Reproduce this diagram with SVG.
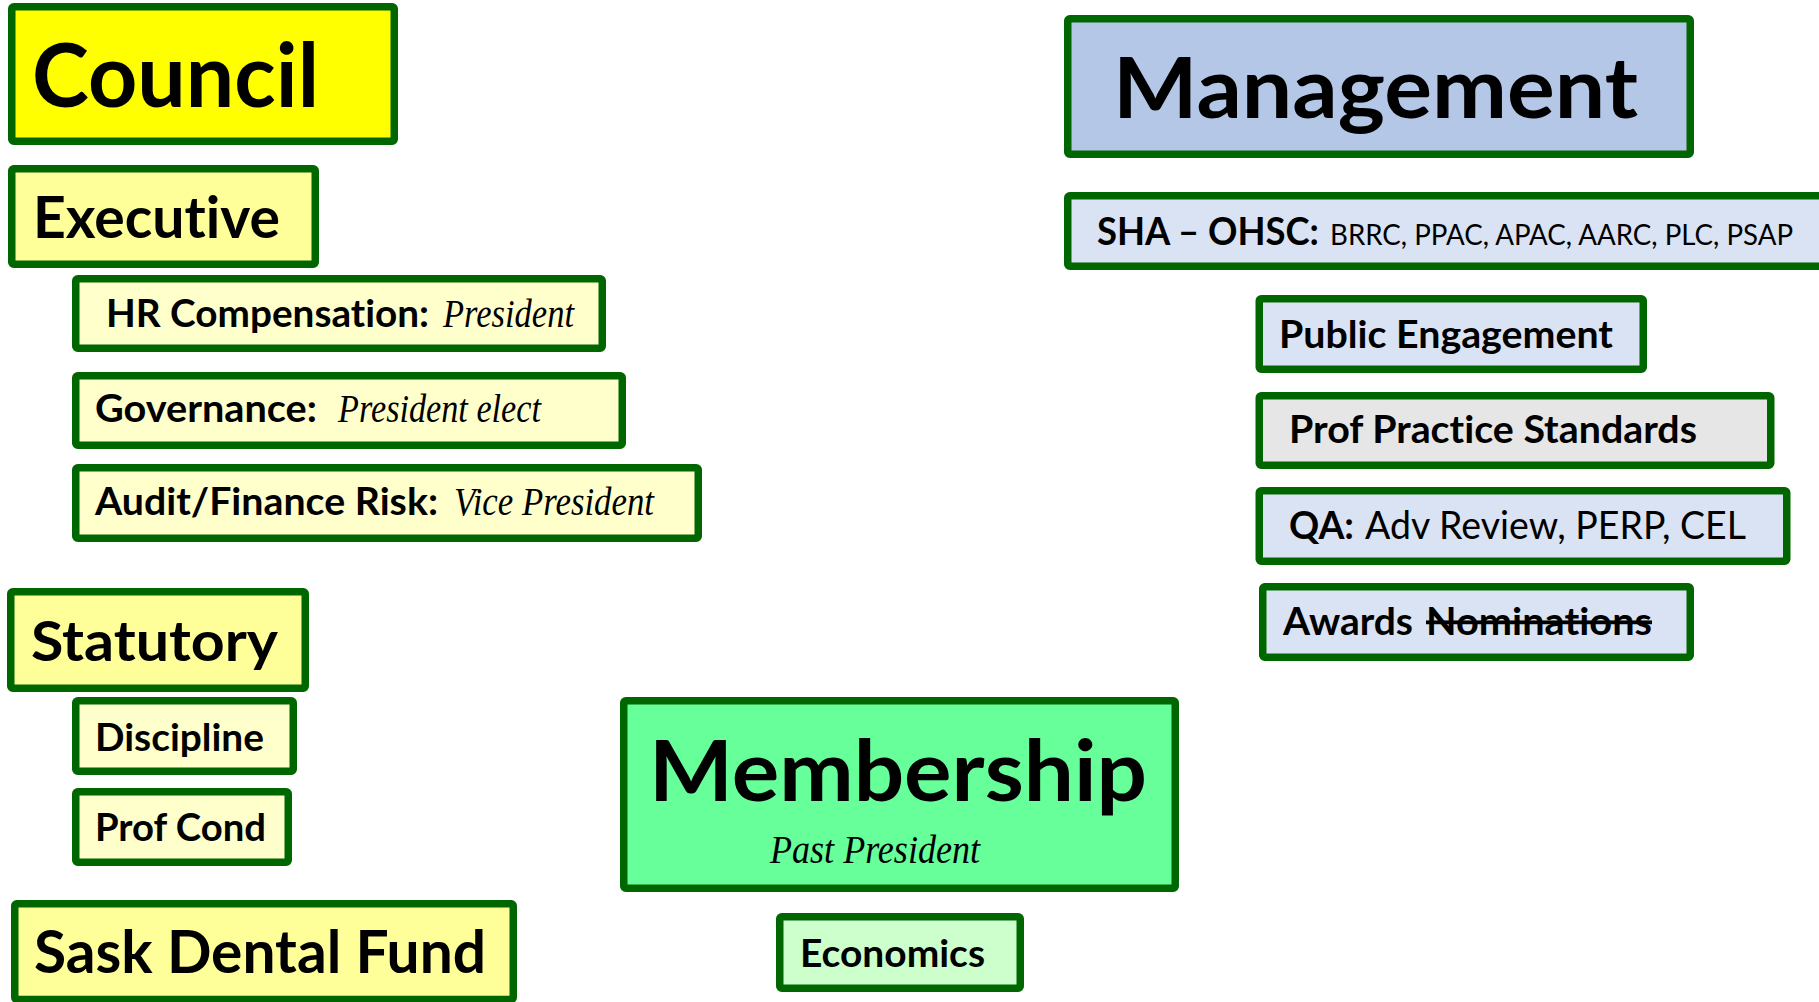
<svg xmlns="http://www.w3.org/2000/svg" width="1819" height="1002" viewBox="0 0 1819 1002">
<style>
text{font-variant-ligatures:none;font-feature-settings:"liga" 0,"clig" 0,"dlig" 0}
.box{stroke:#006600;stroke-width:7.5;stroke-linejoin:round}
.b{font-family:Lato,"Liberation Sans",sans-serif;font-weight:700;fill:#000}
.r{font-family:Lato,"Liberation Sans",sans-serif;font-weight:400;fill:#000}
.s{font-family:"Liberation Serif","DejaVu Serif",serif;font-style:italic;fill:#000}
</style>
<rect width="1819" height="1002" fill="#ffffff"/>
<g id="council">
<rect class="box" x="11.75" y="6.75" width="382.5" height="134.5" rx="2" fill="#FFFF00"/>
<text class="b" x="32" y="107" font-size="88" textLength="287" lengthAdjust="spacingAndGlyphs">Council</text>
</g>
<g id="executive">
<rect class="box" x="11.75" y="168.75" width="303.5" height="95.5" rx="2" fill="#FFFF99"/>
<text class="b" x="33" y="238" font-size="57" textLength="247" lengthAdjust="spacingAndGlyphs">Executive</text>
</g>
<g id="hr">
<rect class="box" x="75.75" y="278.75" width="526.5" height="69.5" rx="2" fill="#FFFFCC"/>
<text class="b" x="106" y="327" font-size="38" textLength="323" lengthAdjust="spacingAndGlyphs">HR Compensation:</text>
<text class="s" x="443" y="327" font-size="39" textLength="131" lengthAdjust="spacingAndGlyphs">President</text>
</g>
<g id="governance">
<rect class="box" x="75.75" y="375.75" width="546.5" height="69.5" rx="2" fill="#FFFFCC"/>
<text class="b" x="95" y="422" font-size="38" textLength="222" lengthAdjust="spacingAndGlyphs">Governance:</text>
<text class="s" x="338" y="422" font-size="39" textLength="203" lengthAdjust="spacingAndGlyphs">President elect</text>
</g>
<g id="audit">
<rect class="box" x="75.75" y="467.75" width="622.5" height="70.5" rx="2" fill="#FFFFCC"/>
<text class="b" x="95" y="515" font-size="38" textLength="343" lengthAdjust="spacingAndGlyphs">Audit/Finance Risk:</text>
<text class="s" x="454" y="515" font-size="39" textLength="200" lengthAdjust="spacingAndGlyphs">Vice President</text>
</g>
<g id="statutory">
<rect class="box" x="10.75" y="591.75" width="294.5" height="96.5" rx="2" fill="#FFFF99"/>
<text class="b" x="31" y="661" font-size="56" textLength="247" lengthAdjust="spacingAndGlyphs">Statutory</text>
</g>
<g id="discipline">
<rect class="box" x="75.75" y="700.75" width="217.5" height="70.5" rx="2" fill="#FFFFCC"/>
<text class="b" x="95" y="751" font-size="38" textLength="169" lengthAdjust="spacingAndGlyphs">Discipline</text>
</g>
<g id="profcond">
<rect class="box" x="75.75" y="791.75" width="212.5" height="70.5" rx="2" fill="#FFFFCC"/>
<text class="b" x="95" y="841" font-size="38" textLength="171" lengthAdjust="spacingAndGlyphs">Prof Cond</text>
</g>
<g id="sask">
<rect class="box" x="14.75" y="903.75" width="498.5" height="95.75" rx="2" fill="#FFFF99"/>
<text class="b" x="34" y="973" font-size="60" textLength="452" lengthAdjust="spacingAndGlyphs">Sask Dental Fund</text>
</g>
<g id="management">
<rect class="box" x="1067.75" y="18.75" width="622.5" height="135.5" rx="2" fill="#B4C7E7"/>
<text class="b" x="1113" y="118" font-size="84" textLength="525" lengthAdjust="spacingAndGlyphs">Management</text>
</g>
<g id="sha">
<rect class="box" x="1067.75" y="195.75" width="800" height="70.5" rx="2" fill="#DAE3F3"/>
<text class="b" x="1097" y="245" font-size="38" textLength="222" lengthAdjust="spacingAndGlyphs">SHA – OHSC:</text>
<text class="r" x="1330" y="245" font-size="28" textLength="463" lengthAdjust="spacingAndGlyphs">BRRC, PPAC, APAC, AARC, PLC, PSAP</text>
</g>
<g id="public">
<rect class="box" x="1259.25" y="298.75" width="384" height="70.5" rx="2" fill="#DAE3F3"/>
<text class="b" x="1279" y="348" font-size="38" textLength="334" lengthAdjust="spacingAndGlyphs">Public Engagement</text>
</g>
<g id="pps">
<rect class="box" x="1259.25" y="395.75" width="511.5" height="69.5" rx="2" fill="#E6E6E6"/>
<text class="b" x="1289" y="443" font-size="38" textLength="408" lengthAdjust="spacingAndGlyphs">Prof Practice Standards</text>
</g>
<g id="qa">
<rect class="box" x="1259.25" y="490.75" width="527.5" height="70.5" rx="2" fill="#DAE3F3"/>
<text class="b" x="1289" y="539" font-size="38" textLength="65" lengthAdjust="spacingAndGlyphs">QA:</text>
<text class="r" x="1365" y="539" font-size="38" textLength="381" lengthAdjust="spacingAndGlyphs">Adv Review, PERP, CEL</text>
</g>
<g id="awards">
<rect class="box" x="1262.75" y="586.75" width="427.5" height="70.5" rx="2" fill="#DAE3F3"/>
<text class="b" x="1283" y="635" font-size="38" textLength="130" lengthAdjust="spacingAndGlyphs">Awards</text>
<text class="b" x="1426" y="635" font-size="38" textLength="226" lengthAdjust="spacingAndGlyphs" text-decoration="line-through">Nominations</text>
</g>
<g id="membership">
<rect class="box" x="623.75" y="700.75" width="551.5" height="187.5" rx="2" fill="#66FF99"/>
<text class="b" x="649" y="801" font-size="85" textLength="498" lengthAdjust="spacingAndGlyphs">Membership</text>
<text class="s" x="770" y="863" font-size="39" textLength="210" lengthAdjust="spacingAndGlyphs">Past President</text>
</g>
<g id="economics">
<rect class="box" x="779.75" y="916.75" width="240.5" height="71.5" rx="2" fill="#CCFFCC"/>
<text class="b" x="800" y="967" font-size="38" textLength="185" lengthAdjust="spacingAndGlyphs">Economics</text>
</g>
<g id="connectors"></g>
</svg>
